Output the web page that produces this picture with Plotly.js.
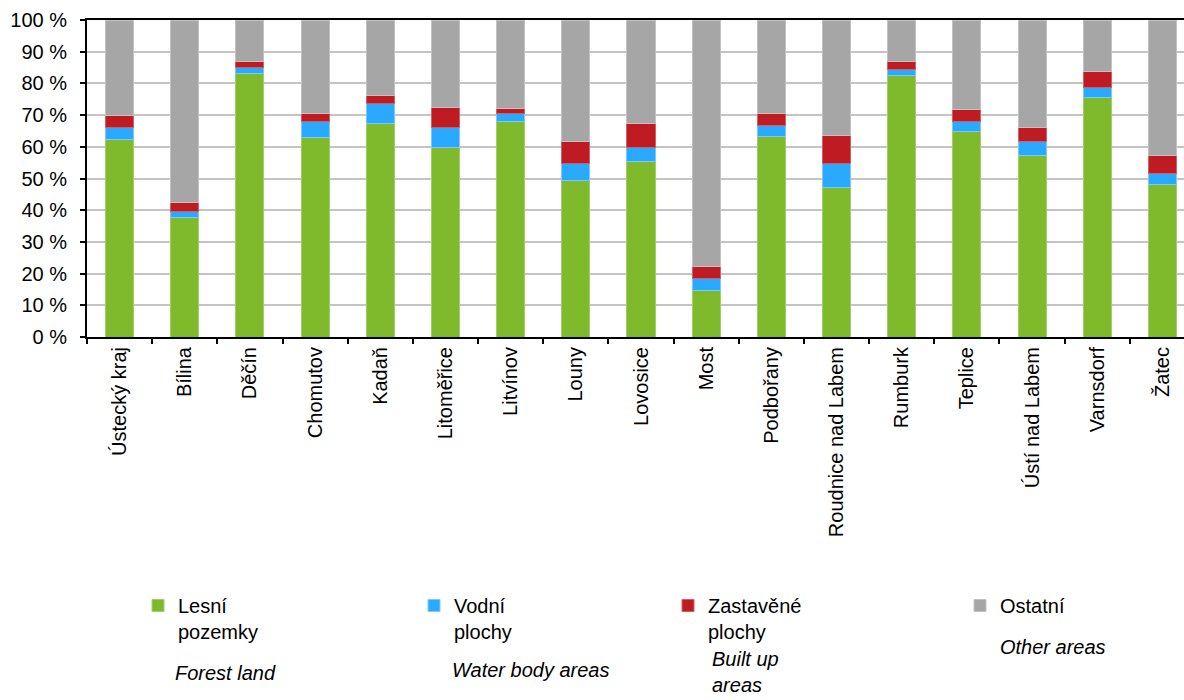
<!DOCTYPE html>
<html>
<head>
<meta charset="utf-8">
<script src="https://cdn.plot.ly/plotly-3.0.1.min.js"></script>
<style>
html,body{margin:0;padding:0;overflow:hidden;background:#fff;}
#chart{width:1200px;height:700px;}
</style>
</head>
<body>
<div id="chart"></div>
<script>
const categories = ["Ústecký kraj","Bílina","Děčín","Chomutov","Kadaň","Litoměřice","Litvínov","Louny","Lovosice","Most","Podbořany","Roudnice nad Labem","Rumburk","Teplice","Ústí nad Labem","Varnsdorf","Žatec"];
const forest = [62.4, 37.8, 83.2, 63.0, 67.3, 59.9, 68.1, 49.3, 55.5, 14.6, 63.1, 47.3, 82.5, 64.9, 57.4, 75.6, 48.0];
const water  = [3.7, 1.9, 1.8, 5.0, 6.3, 6.3, 2.4, 5.5, 4.4, 3.8, 3.7, 7.5, 2.0, 3.1, 4.4, 3.1, 3.7];
const built  = [3.8, 2.6, 1.9, 2.6, 2.6, 6.3, 1.5, 7.0, 7.5, 3.8, 3.8, 8.9, 2.5, 3.8, 4.4, 5.1, 5.7];
const other  = [30.1, 57.7, 13.1, 29.4, 23.8, 27.5, 28.0, 38.2, 32.6, 77.8, 29.4, 36.3, 13.0, 28.2, 33.8, 16.2, 42.6];
const seriesNames = ["Lesní<br>pozemky", "Vodní<br>plochy", "Zastavěné<br>plochy", "Ostatní"];
const seriesNamesEn = ["Forest land", "Water body areas", "Built up<br>areas", "Other areas"];
const colors = ["#7EBA2C", "#29A9FF", "#BE1C22", "#A6A6A6"];
const edgeColors = ["#A2CE6A", "#7CC8FF", "#D06066", "#C2C2C2"];
const tickVals = [0,10,20,30,40,50,60,70,80,90,100];
const tickText = ["0 %","10 %","20 %","30 %","40 %","50 %","60 %","70 %","80 %","90 %","100 %"];

const FONT = "Liberation Sans, Arial, sans-serif";
const FS = 20;
const values = [forest, water, built, other];
const legendIds = ["legend", "legend2", "legend3", "legend4"];

// layout geometry (pixels)
const plotL = 87, plotW = 1108, plotT = 20, plotH = 317;
const legendTextX = [178, 454, 708, 1000];
const legendTop = 586;
const enPx = [[173, 673], [450, 670], [710, 672], [998, 647]];

const traces = values.map((v, i) => ({
  type: "bar",
  x: categories,
  y: v,
  name: seriesNames[i],
  legend: legendIds[i],
  showlegend: true,
  marker: {color: colors[i], line: {color: edgeColors[i], width: 1}},
  hoverinfo: "x+y+name"
}));

const layout = {
  width: 1200,
  height: 700,
  showlegend: true,
  margin: {l: plotL, r: 1200 - plotL - plotW, t: plotT, b: 700 - plotT - plotH},
  barmode: "stack",
  bargap: 0.57,
  paper_bgcolor: "#fff",
  plot_bgcolor: "#fff",
  font: {family: FONT, size: FS, color: "#000"},
  xaxis: {
    type: "category",
    tickangle: -90,
    ticks: "outside",
    tickson: "boundaries",
    ticklen: 5,
    tickwidth: 2,
    tickcolor: "#000",
    showline: true,
    linecolor: "#000",
    linewidth: 2,
    mirror: true,
    showgrid: false,
    tickfont: {family: FONT, size: FS, color: "#000"},
    fixedrange: true
  },
  yaxis: {
    range: [0, 100],
    tickvals: tickVals,
    ticktext: tickText,
    ticks: "outside",
    ticklen: 5,
    tickwidth: 2,
    tickcolor: "#000",
    ticklabelstandoff: 9,
    showline: true,
    linecolor: "#000",
    linewidth: 2,
    showgrid: true,
    gridcolor: "#C4C4C4",
    gridwidth: 1.5,
    zeroline: false,
    tickfont: {family: FONT, size: FS, color: "#000"},
    fixedrange: true
  },
  annotations: seriesNamesEn.map((t, i) => ({
    text: "<i>" + t + "</i>",
    xref: "paper", yref: "paper",
    x: (enPx[i][0] - plotL) / plotW,
    y: (plotT + plotH - enPx[i][1]) / plotH,
    xanchor: "left", yanchor: "middle",
    align: "left",
    showarrow: false,
    font: {family: FONT, size: FS, color: "#000"}
  }))
};

legendIds.forEach((id, i) => {
  layout[id] = {
    x: (legendTextX[i] - 40 - plotL) / plotW,
    y: (plotT + plotH - legendTop) / plotH,
    xanchor: "left", yanchor: "top",
    valign: "top",
    bgcolor: "rgba(0,0,0,0)",
    font: {family: FONT, size: FS, color: "#000"},
    itemwidth: 30,
    traceorder: "normal"
  };
});

Plotly.newPlot("chart", traces, layout, {displayModeBar: false});
</script>
</body>
</html>
